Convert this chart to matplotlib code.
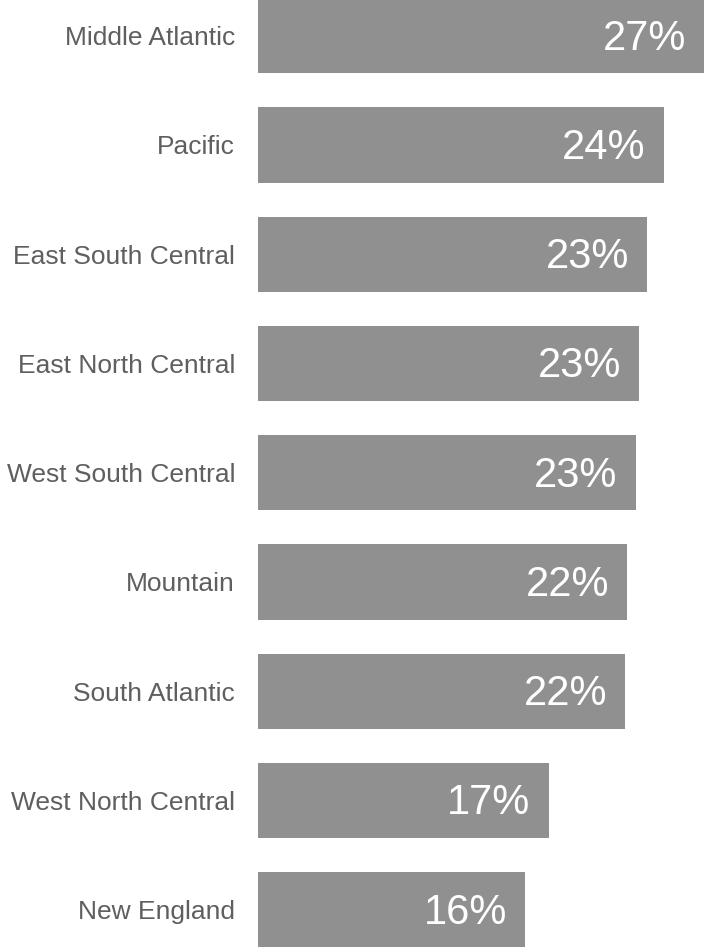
import matplotlib.pyplot as plt

plt.rcParams['font.family'] = ['Liberation Sans', 'DejaVu Sans']

# regions, top to bottom
regions = ['Middle Atlantic', 'Pacific', 'East South Central', 'East North Central',
           'West South Central', 'Mountain', 'South Atlantic', 'West North Central',
           'New England']
# share in percent
share = [26.7, 24.3, 23.3, 22.8, 22.6, 22.1, 22.0, 17.4, 16.0]

bar_color = '#909090'
text_color = '#5f5f5f'

fig = plt.figure(figsize=(7.04, 9.47), dpi=100)
ax = fig.add_axes([258 / 704, 0, 1 - 258 / 704, 1])

y = list(range(len(regions)))
ax.barh(y, share, height=0.69, color=bar_color)

for yi, v in zip(y, share):
    ax.annotate(f'{v:.0f}%', xy=(v, yi), xytext=(-13, -2), textcoords='offset points',
                ha='right', va='center', color='white', fontsize=30)

ax.set_yticks(y)
ax.set_yticklabels(regions, fontsize=19, color=text_color)
ax.tick_params(axis='y', length=0, pad=16.5)
ax.set_xticks([])
ax.set_xlim(0, 26.7)
ax.set_ylim(8.341, -0.327)
for s in ax.spines.values():
    s.set_visible(False)

fig.savefig('out.png', dpi=100)
